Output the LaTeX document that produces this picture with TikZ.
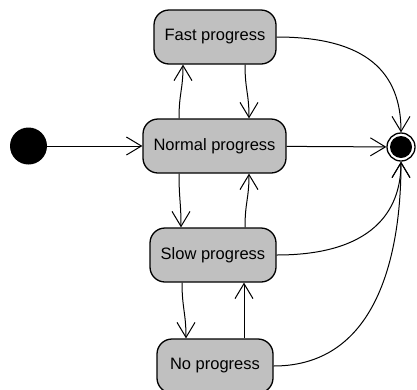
\documentclass[tikz,border=0pt]{standalone}
\usepackage{fontspec}
\setmainfont{Liberation Sans}
\usetikzlibrary{arrows.meta}
\begin{document}
\begin{tikzpicture}[x=1pt,y=-1pt,
  state/.style={draw=black, line width=1.3pt, fill={rgb,255:red,192;green,192;blue,192}, rounded corners=15pt, minimum height=54pt, inner sep=0pt, font=\fontsize{16.5}{18}\selectfont},
  conn/.style={line width=1pt, -{Straight Barb[length=15pt,width=18pt,line width=1pt]}}
]
\useasboundingbox (0,0) rectangle (417,389);
\node[state, minimum width=122pt] (fast) at (215,37) {Fast progress};
\node[state, minimum width=143pt] (normal) at (214.5,146) {Normal progress};
\node[state, minimum width=126pt] (slow) at (213,255) {Slow progress};
\node[state, minimum width=116pt] (none) at (215,366) {No progress};
\node[circle, fill=black, minimum size=37pt, inner sep=0pt] (init) at (28.5,146) {};
\node[circle, draw=black, line width=1.3pt, minimum size=28pt, inner sep=0pt] (final) at (401,147) {};
\node[circle, fill=black, minimum size=22pt, inner sep=0pt] (finalin) at (final) {};

\draw[conn] (init) -- (normal);
\draw[conn] (normal) -- (final);
\draw[conn] (fast.east) .. controls +(90,0) and +(0,-60) .. (final.north);
\draw[conn] (slow.east) .. controls +(95,0) and +(0,50) .. (final.south);
\draw[conn] (none.east) .. controls +(105,0) and +(0,90) .. (final.south);

\draw[conn] ([xshift=-35.5pt]normal.north) .. controls +(0,-25) and +(0,25) .. ([xshift=-32pt]fast.south);
\draw[conn] ([xshift=30pt]fast.south) .. controls +(0,25) and +(0,-25) .. ([xshift=34.5pt]normal.north);
\draw[conn] ([xshift=-35.5pt]normal.south) .. controls +(0,25) and +(0,-25) .. ([xshift=-32pt]slow.north);
\draw[conn] ([xshift=32pt]slow.north) .. controls +(0,-25) and +(0,25) .. ([xshift=34.5pt]normal.south);
\draw[conn] ([xshift=-31pt]slow.south) .. controls +(0,25) and +(0,-25) .. ([xshift=-29pt]none.north);
\draw[conn] ([xshift=29pt]none.north) -- ([xshift=31pt]slow.south);
\end{tikzpicture}
\end{document}
